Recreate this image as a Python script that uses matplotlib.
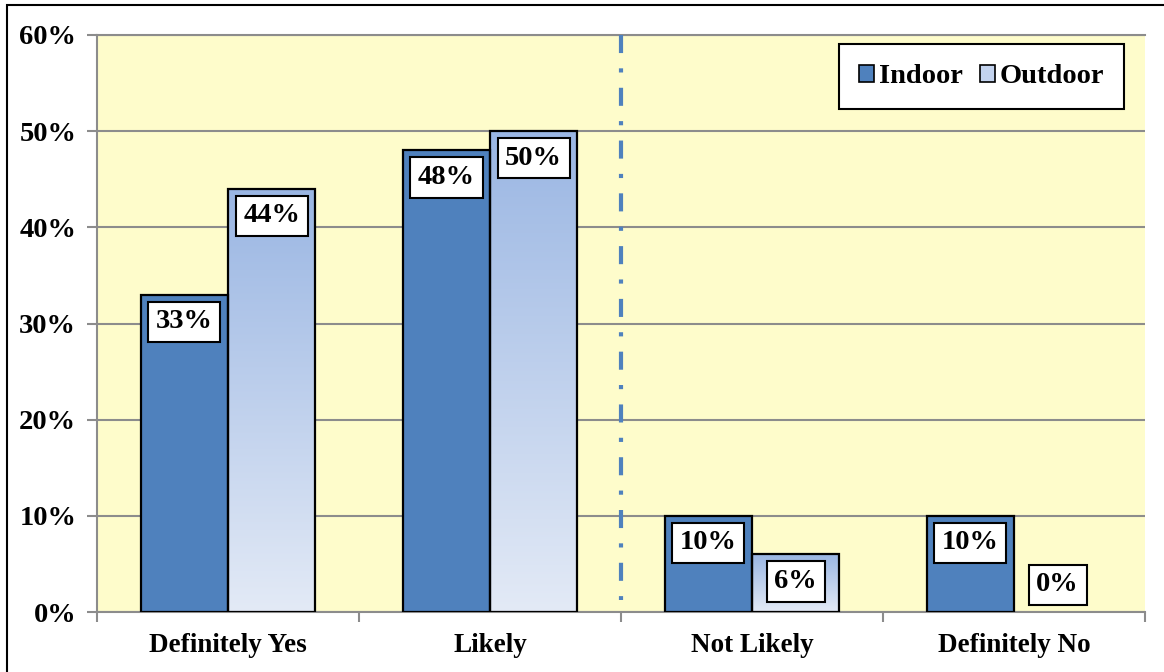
import matplotlib
matplotlib.use("Agg")
import matplotlib.pyplot as plt
import numpy as np
from matplotlib.colors import LinearSegmentedColormap
from matplotlib.patches import Rectangle, Patch

plt.rcParams['font.family'] = ['Liberation Serif', 'DejaVu Serif']
plt.rcParams['font.weight'] = 'bold'
plt.rcParams['lines.scale_dashes'] = False

# datos
categorias = ["Definitely Yes", "Likely", "Not Likely", "Definitely No"]
indoor = [33, 48, 10, 10]
outdoor = [44, 50, 6, 0]
series = ["Indoor", "Outdoor"]
yticks = [0, 10, 20, 30, 40, 50, 60]

color_in = '#4F81BD'
grad = LinearSegmentedColormap.from_list('g', ['#E3EAF6', '#9AB6E3'])

fig = plt.figure(figsize=(11.64, 6.72), dpi=100)
ax = fig.add_axes([97/1164, 1-612/672, (1145-97)/1164, (612-35)/672])
ax.set_facecolor('#FEFCCB')

x = np.arange(len(categorias))
w = 1/3

# barras indoor
ax.bar(x - w/2, indoor, w, color=color_in, edgecolor='black', linewidth=1.6, zorder=3)

# barras outdoor con degradado
barras = ax.bar(x + w/2, outdoor, w, color='none', edgecolor='black', linewidth=1.6, zorder=3)
g = np.linspace(1, 0, 256).reshape(-1, 1)
for b, v in zip(barras, outdoor):
    if v <= 0:
        b.set_visible(False)
        continue
    im = ax.imshow(g, extent=[b.get_x(), b.get_x()+b.get_width(), 0, v],
                   aspect='auto', cmap=grad, vmin=0, vmax=1, zorder=2)
    im.set_clip_path(b)

# etiquetas
for xs, vals in [(x - w/2, indoor), (x + w/2, outdoor)]:
    for xi, v in zip(xs, vals):
        off = -19.5 if v > 3 else 19.5
        ax.annotate(f"{v}%", xy=(xi, v), xytext=(0, off), textcoords='offset points',
                    ha='center', va='center', fontsize=20.5, fontweight='bold', zorder=5,
                    bbox=dict(boxstyle='square,pad=0.27', fc='white', ec='black', lw=1.5))

# linea divisoria
ax.plot([1.5, 1.5], [60, 1.2], color='#4F81BD', lw=3, dashes=(13, 11, 3, 11), zorder=4)

ax.set_xlim(-0.5, 3.5)
ax.set_ylim(0, 60)
ax.set_yticks(yticks)
ax.set_yticklabels([f"{t}%" for t in yticks], fontsize=20.5, fontweight='bold')
ax.set_xticks(x)
ax.set_xticklabels(categorias, fontsize=19.5, fontweight='bold')
ax.set_xticks(np.arange(-0.5, 4, 1), minor=True)
ax.tick_params(axis='x', which='major', length=0, pad=15)
ax.tick_params(axis='x', which='minor', length=7, color='#8C8C8C', width=1.5)
ax.tick_params(axis='y', length=7, color='#8C8C8C', width=1.5, pad=8)
ax.yaxis.grid(True, color='#8C8C8C', lw=1.5, zorder=1)
ax.set_axisbelow(True)
for s in ['left', 'bottom', 'top']:
    ax.spines[s].set_color('#8C8C8C')
    ax.spines[s].set_linewidth(1.5)
ax.spines['right'].set_visible(False)

# leyenda
h = [Patch(fc=color_in, ec='black', lw=1.2), Patch(fc='#C3D3EE', ec='black', lw=1.2)]
leg = ax.legend(h, series, loc='upper right', bbox_to_anchor=(0.98, 0.984), ncol=2,
                prop={'size': 20.5, 'weight': 'bold'}, frameon=True, fancybox=False,
                handlelength=0.55, handleheight=0.55, handletextpad=0.15,
                columnspacing=0.6, borderpad=0.7, borderaxespad=0)
leg.get_frame().set_edgecolor('black')
leg.get_frame().set_linewidth(1.5)
leg.get_frame().set_alpha(1)

# marco
fig.add_artist(Rectangle((7/1164, -0.1), 1.2, 1.1 - 5/672, transform=fig.transFigure,
                         fill=False, ec='black', lw=1.5, clip_on=False))

fig.savefig('out.png', dpi=100)
